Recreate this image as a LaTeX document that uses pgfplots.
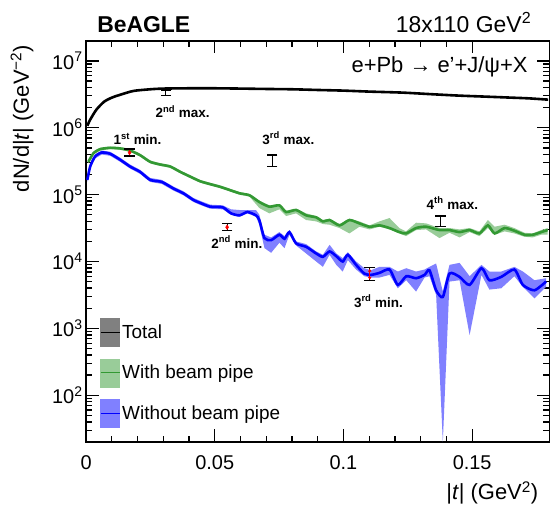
\documentclass[border=0pt]{standalone}
\usepackage{fontspec}
\setmainfont{Liberation Sans}
\usepackage{pgfplots}
\pgfplotsset{compat=1.18}
\usepackage{pgfplotstable}
\usepgfplotslibrary{fillbetween}
\usetikzlibrary{arrows.meta}
\definecolor{rgreen}{RGB}{51,153,51}
\definecolor{gband}{RGB}{153,204,153}
\definecolor{bband}{RGB}{128,128,255}
\definecolor{lgray}{RGB}{128,128,128}

\pgfplotstableread{
x y
0.0005 1.07e6
0.0016 1.32e6
0.004 1.86e6
0.007 2.45e6
0.010 2.82e6
0.013 3.09e6
0.0184 3.55e6
0.025 3.76e6
0.030 3.85e6
0.040 3.89e6
0.050 3.89e6
0.060 3.85e6
0.070 3.80e6
0.080 3.76e6
0.090 3.67e6
0.100 3.59e6
0.110 3.47e6
0.123 3.35e6
0.135 3.16e6
0.145 3.02e6
0.155 2.92e6
0.165 2.82e6
0.172 2.75e6
0.1795 2.63e6
}\totaltab

\pgfplotstableread{
x y lo hi
0.0009 3.090e5 2.951e5 3.236e5
0.0029 4.169e5 3.981e5 4.365e5
0.0055 4.786e5 4.571e5 5.012e5
0.0094 5.012e5 4.786e5 5.248e5
0.0133 4.898e5 4.677e5 5.129e5
0.0171 4.571e5 4.365e5 4.786e5
0.0210 3.890e5 3.715e5 4.074e5
0.0249 3.090e5 2.951e5 3.236e5
0.0288 2.818e5 2.692e5 2.951e5
0.0327 2.630e5 2.512e5 2.754e5
0.0366 2.188e5 2.089e5 2.291e5
0.0404 1.862e5 1.778e5 1.950e5
0.0443 1.585e5 1.514e5 1.660e5
0.0479 1.445e5 1.380e5 1.514e5
0.0518 1.318e5 1.259e5 1.380e5
0.0557 1.175e5 1.122e5 1.230e5
0.0596 1.047e5 1.000e5 1.096e5
0.0635 9.772e4 9.333e4 1.023e5
0.0673 7.762e4 6.310e4 8.128e4
0.0712 6.607e4 5.248e4 6.918e4
0.0751 6.918e4 6.026e4 7.244e4
0.0777 5.495e4 4.786e4 5.754e4
0.0816 5.888e4 5.248e4 6.166e4
0.0855 4.898e4 4.169e4 5.248e4
0.0894 4.571e4 3.981e4 4.786e4
0.0920 3.981e4 3.631e4 4.169e4
0.0946 4.169e4 3.548e4 4.365e4
0.0985 3.467e4 3.162e4 3.631e4
0.1023 4.169e4 2.630e4 4.365e4
0.1062 3.715e4 3.311e4 3.981e4
0.1101 3.311e4 3.020e4 3.467e4
0.1140 3.467e4 3.311e4 3.981e4
0.1179 3.162e4 3.020e4 4.467e4
0.1217 2.754e4 2.630e4 3.162e4
0.1243 2.630e4 2.399e4 2.818e4
0.1282 3.162e4 2.951e4 3.802e4
0.1321 3.311e4 3.020e4 3.715e4
0.1373 2.951e4 2.239e4 3.162e4
0.1412 2.951e4 2.692e4 3.162e4
0.1451 2.754e4 2.291e4 3.020e4
0.1490 2.951e4 2.754e4 3.162e4
0.1528 2.630e4 2.399e4 2.818e4
0.1561 3.467e4 3.162e4 4.169e4
0.1587 2.630e4 2.512e4 3.311e4
0.1626 3.162e4 2.818e4 3.548e4
0.1664 2.884e4 2.630e4 3.162e4
0.1703 2.512e4 2.344e4 2.692e4
0.1735 2.512e4 2.291e4 2.630e4
0.1768 2.754e4 2.512e4 2.951e4
0.1793 2.951e4 2.512e4 3.162e4
}\greentab

\pgfplotstableread{
x y lo hi
0.0005 1.660e5 1.549e5 1.778e5
0.0016 2.630e5 2.455e5 2.818e5
0.0035 3.715e5 3.467e5 3.981e5
0.0061 4.266e5 3.981e5 4.571e5
0.0094 4.074e5 3.802e5 4.365e5
0.0133 3.311e5 3.090e5 3.548e5
0.0171 2.630e5 2.455e5 2.818e5
0.0210 2.188e5 2.042e5 2.344e5
0.0249 1.660e5 1.549e5 1.778e5
0.0294 1.549e5 1.445e5 1.660e5
0.0340 1.230e5 1.148e5 1.318e5
0.0378 1.047e5 9.772e4 1.122e5
0.0417 8.318e4 7.762e4 8.913e4
0.0441 7.586e4 7.079e4 8.128e4
0.0482 6.607e4 6.166e4 7.079e4
0.0531 6.457e4 6.026e4 6.918e4
0.0563 5.248e4 5.012e4 6.026e4
0.0596 4.898e4 4.677e4 5.888e4
0.0627 5.495e4 5.248e4 5.888e4
0.0660 4.898e4 4.677e4 5.888e4
0.0673 4.169e4 3.548e4 5.012e4
0.0693 2.239e4 1.585e4 2.512e4
0.0719 2.089e4 1.349e4 2.291e4
0.0751 2.512e4 1.905e4 2.754e4
0.0771 2.188e4 1.585e4 2.399e4
0.0790 2.754e4 2.512e4 2.951e4
0.0816 1.862e4 1.738e4 1.995e4
0.0855 1.660e4 1.318e4 1.820e4
0.0894 1.318e4 1.000e4 1.413e4
0.0920 1.175e4 8.318e3 1.259e4
0.0946 1.413e4 1.259e4 1.778e4
0.0972 1.202e4 8.913e3 1.318e4
0.0997 1.000e4 7.079e3 1.122e4
0.1017 1.259e4 1.047e4 1.380e4
0.1049 8.913e3 7.586e3 1.000e4
0.1081 6.607e3 6.026e3 7.943e3
0.1107 6.310e3 5.754e3 7.413e3
0.1140 6.761e3 5.754e3 8.318e3
0.1179 7.586e3 6.310e3 8.318e3
0.1211 4.467e3 3.981e3 7.079e3
0.1244 6.026e3 5.248e3 7.943e3
0.1282 5.623e3 3.548e3 7.079e3
0.1315 6.310e3 5.754e3 7.586e3
0.1334 7.413e3 6.026e3 8.318e3
0.1360 3.715e3 3.162e3 9.333e3
0.1386 2.951e3 20 3.548e3
0.1412 6.607e3 5.012e3 8.913e3
0.1451 5.888e3 5.248e3 9.550e3
0.1490 4.467e3 794 6.026e3
0.1536 7.943e3 6.310e3 8.913e3
0.1567 5.248e3 3.802e3 7.079e3
0.1613 5.888e3 3.981e3 7.079e3
0.1664 7.586e3 6.026e3 8.318e3
0.1697 4.467e3 4.169e3 7.079e3
0.1742 3.715e3 2.818e3 5.248e3
0.1787 5.012e3 4.169e3 5.623e3
}\bluetab

\begin{document}
\begin{tikzpicture}
\begin{axis}[
  scale only axis, width=463bp, height=401bp,
  xmin=0, xmax=0.18, ymode=log, log basis y=10, ymin=20, ymax=2e7,
  clip mode=individual,
  axis line style={line width=1.8bp},
  every tick/.style={line width=1.3bp, black},
  tick align=inside,
  major tick length=12.7bp, minor tick length=6bp,
  xtick={0,0.05,0.1,0.15}, xticklabels={0,0.05,0.1,0.15},
  minor x tick num=4,
  yticklabel={10\textsuperscript{\pgfmathparse{int(round(\tick))}\pgfmathresult}},
  ticklabel style={font=\fontsize{20}{24}\selectfont},
  xticklabel style={yshift=-10bp},
  legend style={at={(0.030,0.3085)}, anchor=north west, draw=none, fill=none,
    inner sep=0pt, outer sep=0pt, row sep=12bp, font=\fontsize{19}{22}\selectfont},
  legend cell align=left,
]
\addlegendimage{legend image code/.code={\fill[lgray] (0bp,-14bp) rectangle (19bp,14bp); \draw[black,line width=1.2bp] (0bp,0bp) -- (19bp,0bp);}}
\addlegendentry{Total}
\addlegendimage{legend image code/.code={\fill[gband] (0bp,-14bp) rectangle (19bp,14bp); \draw[rgreen,line width=1.2bp] (0bp,0bp) -- (19bp,0bp);}}
\addlegendentry{With beam pipe}
\addlegendimage{legend image code/.code={\fill[bband] (0bp,-14bp) rectangle (19bp,14bp); \draw[blue,line width=1.2bp] (0bp,0bp) -- (19bp,0bp);}}
\addlegendentry{Without beam pipe}

% green band
\addplot[name path=gup, draw=none, forget plot] table[x=x,y=hi]{\greentab};
\addplot[name path=glo, draw=none, forget plot] table[x=x,y=lo]{\greentab};
\addplot[gband, forget plot] fill between[of=gup and glo];
% blue band
\addplot[name path=bup, draw=none, forget plot] table[x=x,y=hi]{\bluetab};
\addplot[name path=blo, draw=none, forget plot] table[x=x,y=lo]{\bluetab};
\addplot[bband, forget plot] fill between[of=bup and blo];

\addplot[rgreen, line width=2.6bp, smooth, tension=0.4, forget plot] table[x=x,y=y]{\greentab};
\addplot[blue, line width=2.6bp, smooth, tension=0.4, forget plot] table[x=x,y=y]{\bluetab};
\addplot[black, line width=2.6bp, smooth, tension=0.4, forget plot] table[x=x,y=y]{\totaltab};

% annotation bars
\addplot[black, line width=1.2bp, mark=-, mark size=5.3bp, mark options={line width=1.2bp}, forget plot] coordinates {(0.0169,4.82e5) (0.0169,3.78e5)};
\addplot[black, line width=1.2bp, mark=-, mark size=5.3bp, mark options={line width=1.2bp}, forget plot] coordinates {(0.0310,3.6e6) (0.0310,3.05e6)};
\addplot[black, line width=1.2bp, mark=-, mark size=5.3bp, mark options={line width=1.2bp}, forget plot] coordinates {(0.0723,3.92e5) (0.0723,2.62e5)};
\addplot[black, line width=1.2bp, mark=-, mark size=5.3bp, mark options={line width=1.2bp}, forget plot] coordinates {(0.0548,3.72e4) (0.0548,2.88e4)};
\addplot[black, line width=1.2bp, mark=-, mark size=5.3bp, mark options={line width=1.2bp}, forget plot] coordinates {(0.1376,4.79e4) (0.1376,3.31e4)};
\addplot[black, line width=1.2bp, mark=-, mark size=5.3bp, mark options={line width=1.2bp}, forget plot] coordinates {(0.1102,8.05e3) (0.1102,5.14e3)};
\addplot[red, line width=1.3bp, {Latex[length=3bp,width=4bp]}-{Latex[length=3bp,width=4bp]}, forget plot] coordinates {(0.0169,4.70e5) (0.0169,3.85e5)};
\addplot[red, line width=1.3bp, {Latex[length=3bp,width=4bp]}-{Latex[length=3bp,width=4bp]}, forget plot] coordinates {(0.0548,3.60e4) (0.0548,2.95e4)};
\addplot[red, line width=1.3bp, {Latex[length=3bp,width=4bp]}-{Latex[length=3bp,width=4bp]}, forget plot] coordinates {(0.1102,7.80e3) (0.1102,5.30e3)};

\begin{scope}[font=\fontsize{13.5}{15}\selectfont\bfseries]
\node at (axis cs:0.020,6.8e5) {1\textsuperscript{st} min.};
\node at (axis cs:0.0375,1.74e6) {2\textsuperscript{nd} max.};
\node at (axis cs:0.0786,7.0e5) {3\textsuperscript{rd} max.};
\node at (axis cs:0.0586,1.95e4) {2\textsuperscript{nd} min.};
\node at (axis cs:0.1423,7.48e4) {4\textsuperscript{th} max.};
\node at (axis cs:0.1136,2.55e3) {3\textsuperscript{rd} min.};
\end{scope}

\node[anchor=base west, inner sep=0pt, font=\fontsize{23}{26}\selectfont\bfseries] at ([xshift=11bp, yshift=8.7bp]rel axis cs:0,1) {BeAGLE};
\node[anchor=base east, inner sep=0pt, font=\fontsize{23}{26}\selectfont] at ([xshift=-18bp, yshift=8.7bp]rel axis cs:1,1) {18x110 GeV\textsuperscript{2}};
\node[anchor=base east, inner sep=0pt, font=\fontsize{22}{26}\selectfont] at ([xshift=-21.6bp, yshift=-32bp]rel axis cs:1,1) {e+Pb → e'+J/ψ+X};
\node[anchor=east, inner sep=0pt, rotate=90, font=\fontsize{22}{26}\selectfont] at ([xshift=-64bp, yshift=-4bp]rel axis cs:0,1) {dN/d|\textit{t}| (GeV\textsuperscript{−2})};
\node[anchor=east, inner sep=0pt, font=\fontsize{22}{26}\selectfont] at ([xshift=-11bp, yshift=-51bp]rel axis cs:1,0) {|\textit{t}| (GeV\textsuperscript{2})};
\end{axis}
\pgfresetboundingbox
\path[use as bounding box] ([xshift=-86bp,yshift=-64.3bp]current axis.south west) rectangle ([xshift=3.6bp,yshift=40.7bp]current axis.north east);
\end{tikzpicture}
\end{document}
